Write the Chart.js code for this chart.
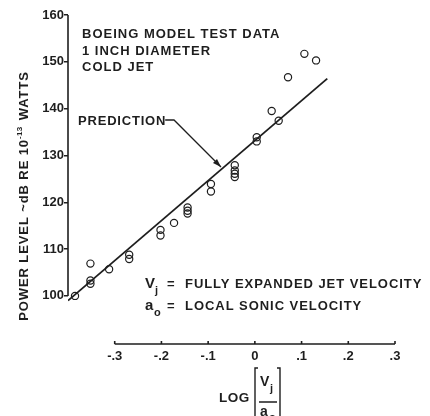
<!DOCTYPE html>
<html lang="en">
<head>
    <meta charset="UTF-8">
    <title>Boeing Model Test Data</title>
    <script src="https://cdn.jsdelivr.net/npm/chart.js"></script>
    <style>
        body {
            margin: 0;
            background-color: #ffffff;
        }
        canvas {
            display: block;
        }
    </style>
</head>
<body>
    <canvas id="jetChart" width="430" height="416"></canvas>

    <script>
        // measured points: log(Vj/ao) vs power level (dB re 1e-13 W)
        const testLogV = [-0.385, -0.352, -0.352, -0.352, -0.312, -0.269, -0.269,
            -0.202, -0.202, -0.173, -0.144, -0.144, -0.144, -0.094, -0.094,
            -0.043, -0.043, -0.043, -0.043, 0.004, 0.004, 0.036, 0.051, 0.071, 0.106, 0.131];
        const testPower = [100.0, 106.9, 103.3, 102.6, 105.7, 108.8, 107.9,
            114.1, 112.9, 115.6, 118.9, 118.2, 117.6, 123.9, 122.3,
            127.9, 126.8, 126.1, 125.4, 133.9, 133.0, 139.5, 137.4, 146.7, 151.7, 150.3];

        // prediction line end points
        const predLogV = [-0.40, 0.155];
        const predPower = [99.0, 146.4];

        const xTicks = [-0.3, -0.2, -0.1, 0, 0.1, 0.2, 0.3];
        const xTickLabels = ["-.3", "-.2", "-.1", "0", ".1", ".2", ".3"];
        const yTicks = [100, 110, 120, 130, 140, 150, 160];

        const ink = "#1e1e1e";
        const font = "'Liberation Sans', Arial, sans-serif";

        function txt(ctx, s, x, y, size, spacing) {
            ctx.font = "bold " + size + "px " + font;
            ctx.letterSpacing = (spacing || 0) + "px";
            ctx.fillText(s, x, y);
            return ctx.measureText(s).width;
        }

        const extras = {
            id: "extras",
            afterDraw(chart) {
                const ctx = chart.ctx;
                const xs = chart.scales.x, ys = chart.scales.y;
                ctx.save();
                ctx.strokeStyle = ink;
                ctx.fillStyle = ink;
                ctx.lineWidth = 1.6;

                // y axis line from 100 to 160
                const yx = xs.getPixelForValue(-0.4);
                ctx.beginPath();
                ctx.moveTo(yx, ys.getPixelForValue(yTicks[0]));
                ctx.lineTo(yx, ys.getPixelForValue(yTicks[yTicks.length - 1]));
                ctx.stroke();

                // detached x axis from -.3 to .3, ticks pointing up
                const by = chart.chartArea.bottom;
                ctx.beginPath();
                ctx.moveTo(xs.getPixelForValue(xTicks[0]), by);
                ctx.lineTo(xs.getPixelForValue(xTicks[xTicks.length - 1]), by);
                xTicks.forEach(v => {
                    const px = xs.getPixelForValue(v);
                    ctx.moveTo(px, by);
                    ctx.lineTo(px, by - 3);
                });
                ctx.stroke();

                ctx.textBaseline = "alphabetic";
                ctx.textAlign = "left";

                // test data caption
                txt(ctx, "BOEING MODEL TEST DATA", 82, 38, 13, 1);
                txt(ctx, "1 INCH DIAMETER", 82, 55, 13, 1);
                txt(ctx, "COLD JET", 82, 71, 13, 1);

                // prediction label with leader and arrow
                const w = txt(ctx, "PREDICTION", 78, 125, 13, 0.8);
                ctx.lineWidth = 1.3;
                ctx.beginPath();
                ctx.moveTo(78 + w - 1, 120);
                ctx.lineTo(174, 120);
                ctx.lineTo(221, 167);
                ctx.stroke();
                ctx.beginPath();
                ctx.moveTo(221, 167);
                ctx.lineTo(213, 163);
                ctx.lineTo(217, 159);
                ctx.closePath();
                ctx.fill();

                // definitions
                txt(ctx, "V", 145, 288, 15, 0);
                txt(ctx, "j", 155, 294, 11, 0);
                txt(ctx, "=", 167, 288, 13, 0);
                txt(ctx, "FULLY EXPANDED JET VELOCITY", 185, 288, 13, 0.95);
                txt(ctx, "a", 145, 310, 15, 0);
                txt(ctx, "o", 154, 316, 11, 0);
                txt(ctx, "=", 167, 310, 13, 0);
                txt(ctx, "LOCAL SONIC VELOCITY", 185, 310, 13, 0.95);

                // x axis title: LOG [Vj / ao]
                txt(ctx, "LOG", 219, 402, 13.5, 0.5);
                ctx.lineWidth = 1.4;
                ctx.beginPath();
                ctx.moveTo(258, 368); ctx.lineTo(255, 368); ctx.lineTo(255, 418);
                ctx.moveTo(277, 368); ctx.lineTo(280, 368); ctx.lineTo(280, 418);
                ctx.moveTo(259, 402); ctx.lineTo(277, 402);
                ctx.stroke();
                txt(ctx, "V", 260, 386, 14, 0);
                txt(ctx, "j", 270, 392, 11, 0);
                txt(ctx, "a", 260, 416, 14, 0);
                txt(ctx, "o", 269, 421, 11, 0);

                // y axis title, rotated
                ctx.translate(28, 196);
                ctx.rotate(-Math.PI / 2);
                ctx.font = "bold 13px " + font;
                ctx.letterSpacing = "0.9px";
                const p1 = "POWER LEVEL ~dB RE 10", p2 = " WATTS";
                const w1 = ctx.measureText(p1).width, w3 = ctx.measureText(p2).width;
                ctx.font = "bold 8px " + font;
                const w2 = ctx.measureText("-13").width;
                let x0 = -(w1 + w2 + w3) / 2;
                txt(ctx, p1, x0, 0, 13, 0.9);
                txt(ctx, "-13", x0 + w1, -6, 8, 0.3);
                txt(ctx, p2, x0 + w1 + w2, 0, 13, 0.9);
                ctx.restore();
            }
        };

        document.addEventListener("DOMContentLoaded", function () {
            const ctx = document.getElementById("jetChart").getContext("2d");
            new Chart(ctx, {
                type: "scatter",
                data: {
                    datasets: [{
                        label: "Test data",
                        data: testLogV.map((v, i) => ({ x: v, y: testPower[i] })),
                        pointStyle: "circle",
                        pointRadius: 3.6,
                        borderColor: ink,
                        borderWidth: 1.2,
                        backgroundColor: "rgba(0,0,0,0)",
                        showLine: false
                    }, {
                        label: "Prediction",
                        data: predLogV.map((v, i) => ({ x: v, y: predPower[i] })),
                        showLine: true,
                        borderColor: ink,
                        borderWidth: 1.8,
                        pointRadius: 0
                    }]
                },
                options: {
                    responsive: false,
                    animation: false,
                    devicePixelRatio: 1,
                    layout: { padding: { left: 0, top: 15, right: 35, bottom: 0 } },
                    plugins: {
                        legend: { display: false },
                        tooltip: { enabled: false }
                    },
                    scales: {
                        x: {
                            type: "linear",
                            min: -0.4,
                            max: 0.3,
                            afterBuildTicks: s => { s.ticks = xTicks.map(v => ({ value: v })); },
                            afterFit: s => { s.height = 72; },
                            grid: { display: false, drawTicks: false },
                            border: { display: false },
                            ticks: {
                                padding: 5,
                                color: ink,
                                font: { family: font, size: 13, weight: "bold" },
                                callback: (v, i) => xTickLabels[i]
                            }
                        },
                        y: {
                            min: 89.73,
                            max: 160,
                            afterBuildTicks: s => { s.ticks = yTicks.map(v => ({ value: v })); },
                            afterFit: s => { s.width = 68; },
                            grid: { drawOnChartArea: false, drawTicks: true, tickLength: 4, color: ink, lineWidth: 1.5 },
                            border: { display: false },
                            ticks: {
                                padding: 0,
                                color: ink,
                                font: { family: font, size: 13, weight: "bold" }
                            }
                        }
                    }
                },
                plugins: [extras]
            });
        });
    </script>
</body>
</html>
